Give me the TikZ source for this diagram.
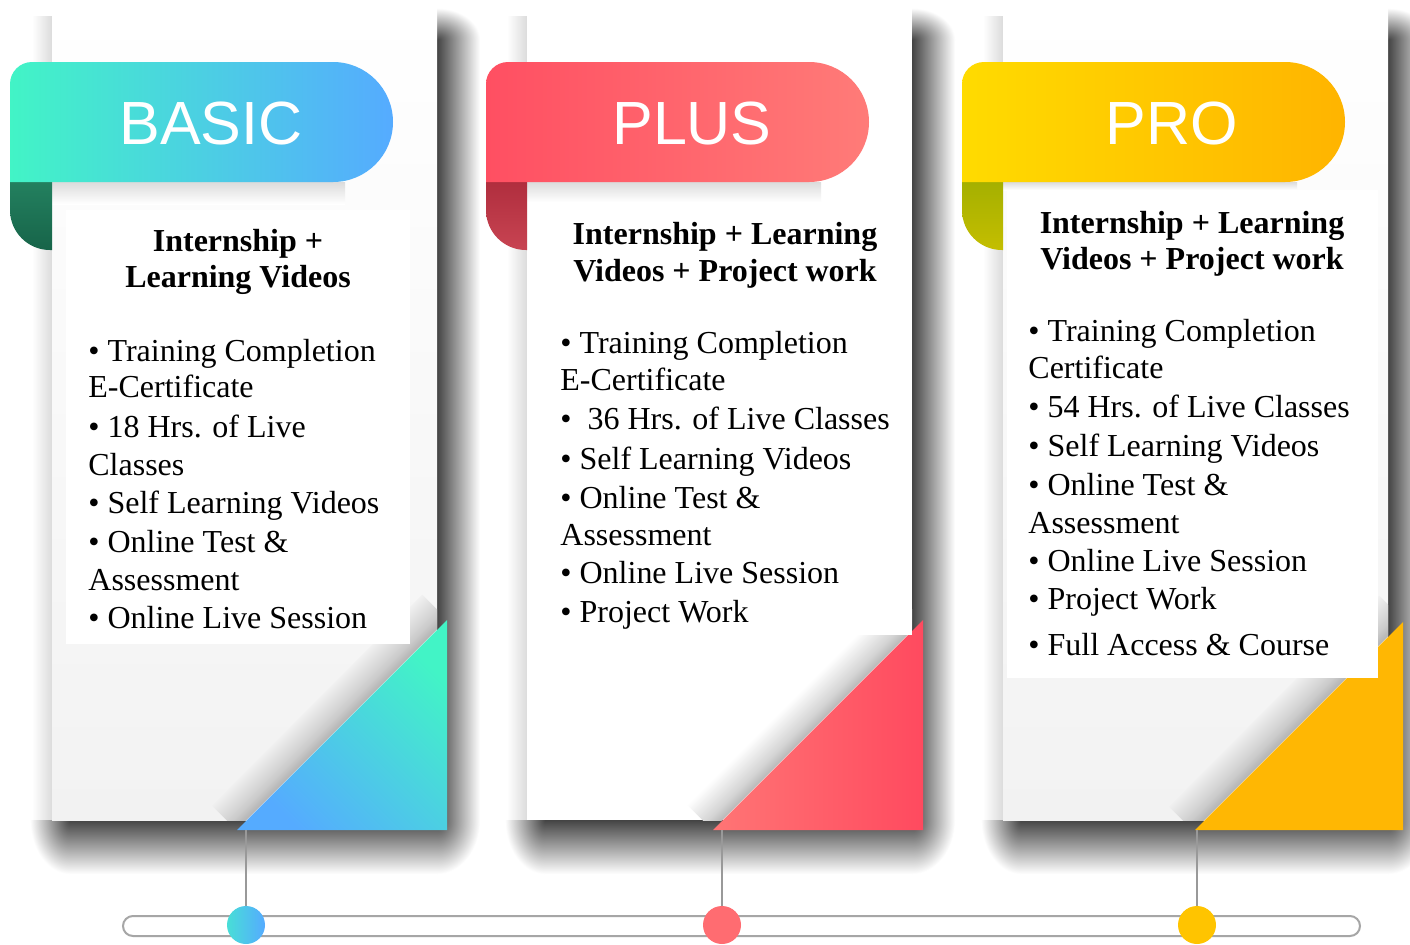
\documentclass[tikz,border=0pt]{standalone}
\usepackage{fontspec}
\setmainfont{Liberation Serif}
\setsansfont{Liberation Sans}
\usepackage{tikz}

\definecolor{basicA}{HTML}{42F4C6}
\definecolor{basicB}{HTML}{55ABFF}
\definecolor{basicC}{HTML}{23805F}
\definecolor{basicD}{HTML}{176449}
\definecolor{plusA}{HTML}{FF4F62}
\definecolor{plusB}{HTML}{FF7B78}
\definecolor{plusC}{HTML}{B02E3E}
\definecolor{plusD}{HTML}{C84452}
\definecolor{plusE}{HTML}{FF7575}
\definecolor{plusF}{HTML}{FF4A5F}
\definecolor{proA}{HTML}{FFDB00}
\definecolor{proB}{HTML}{FFB400}
\definecolor{proC}{HTML}{A5B000}
\definecolor{proD}{HTML}{C4BE00}
\definecolor{proE}{HTML}{FFB703}
\definecolor{papergray}{HTML}{F2F2F2}
\definecolor{shadowgray}{HTML}{444444}
\definecolor{linegray}{HTML}{A6A6A6}
\definecolor{stemgray}{HTML}{999999}

\pgfdeclareverticalshading{foldgray}{149pt}{color(0pt)=(black!30); color(5pt)=(black!20); color(18pt)=(papergray)}
\pgfdeclareverticalshading{foldwhite}{149pt}{color(0pt)=(black!28); color(5pt)=(black!17); color(18pt)=(white)}

\begin{document}
\begin{tikzpicture}[x=0.5pt,y=-0.5pt,
		sideshade/.style={left color=shadowgray,right color=white},
		footshade/.style={top color=shadowgray,bottom color=white},
		cornershade/.style={inner color=shadowgray,outer color=white},
		fold/.style={rotate=45,anchor=south,inner sep=0pt},
		badge/.style={text=white,font=\sffamily\fontsize{30.5}{36}\selectfont,anchor=base,inner sep=0pt},
		headtxt/.style={font=\bfseries\fontsize{16}{19}\selectfont,anchor=base,inner sep=0pt},
		itemtxt/.style={font=\fontsize{16}{19}\selectfont,anchor=base west,inner sep=0pt},
		stem/.style={draw=stemgray,line width=1pt},
		dot/.style={circle,minimum size=19pt,inner sep=0pt}]

			\fill[white] (0,0) rectangle (1410,944);
			\useasboundingbox (0,0) rectangle (1410,944);

			% BASIC
			\shade[left color=white,right color=black!14] (32,16) rectangle (52,820);
			\begin{scope}
				\clip (437,8) rectangle (480,40);
				\shade[cornershade] (437,40) ellipse[x radius=43,y radius=32];
			\end{scope}
			\begin{scope}
				\clip (437,820) rectangle (480,874);
				\shade[cornershade] (437,820) ellipse[x radius=43,y radius=54];
			\end{scope}
			\begin{scope}
				\clip (30,820) rectangle (70,874);
				\shade[cornershade] (70,820) ellipse[x radius=40,y radius=54];
			\end{scope}
			\shade[sideshade] (437,40) rectangle (480,820);
			\shade[footshade] (70,820) rectangle (437,874);
			\shade[top color=white,bottom color=papergray] (52,8) rectangle (437,820);
			\shade[top color=black!14,bottom color=white] (52,182) rectangle (345,204);
			\begin{scope}
				\clip (52,8) rectangle (437,820);
				\node[fold] (bfold) at (342,725){\pgfuseshading{foldgray}};
			\end{scope}
			\shade[top color=basicC,bottom color=basicD] (10,182) -- (10,210) arc[start angle=180,end angle=90,radius=40] -- (52,250) -- (52,182) -- cycle;
			\shade[left color=basicA,right color=basicB] (10,182) -- (10,84) arc[start angle=180,end angle=270,radius=22] -- (333,62) arc[start angle=270,end angle=450,radius=60] -- cycle;
			\shade[top color=basicA,bottom color=basicB,shading angle=-45] (237,830) -- (447,830) -- (447,620) -- cycle;
			\fill[white] (66,210) rectangle (410,644);
				\node[badge] (basic) at (211,144){BASIC};
				\node[headtxt] (bt1) at (238,251){Internship +};
				\node[headtxt] (bt2) at (238,287){Learning Videos};
				\node[itemtxt] (b1) at (88,361){\textbullet\ Training Completion};
				\node[itemtxt] (b2) at (88,397){E-Certificate};
				\node[itemtxt] (b3) at (88,437){\textbullet\ 18 Hrs. of Live};
				\node[itemtxt] (b4) at (88,475){Classes};
				\node[itemtxt] (b5) at (88,513){\textbullet\ Self Learning Videos};
				\node[itemtxt] (b6) at (88,552){\textbullet\ Online Test \&};
				\node[itemtxt] (b7) at (88,590){Assessment};
				\node[itemtxt] (b8) at (88,628){\textbullet\ Online Live Session};

			% PLUS
			\shade[left color=white,right color=black!14] (507,16) rectangle (527,820);
			\begin{scope}
				\clip (912,8) rectangle (955,40);
				\shade[cornershade] (912,40) ellipse[x radius=43,y radius=32];
			\end{scope}
			\begin{scope}
				\clip (912,820) rectangle (955,874);
				\shade[cornershade] (912,820) ellipse[x radius=43,y radius=54];
			\end{scope}
			\begin{scope}
				\clip (505,820) rectangle (545,874);
				\shade[cornershade] (545,820) ellipse[x radius=40,y radius=54];
			\end{scope}
			\shade[sideshade] (912,40) rectangle (955,820);
			\shade[footshade] (545,820) rectangle (912,874);
			\fill[white] (527,8) rectangle (912,820);
			\shade[top color=black!14,bottom color=white] (527,182) rectangle (821,202);
			\begin{scope}
				\clip (527,8) rectangle (912,820);
				\node[fold] (pfold) at (818,725){\pgfuseshading{foldwhite}};
			\end{scope}
			\shade[top color=plusC,bottom color=plusD] (486,182) -- (486,210) arc[start angle=180,end angle=90,radius=40] -- (527,250) -- (527,182) -- cycle;
			\shade[left color=plusA,right color=plusB] (486,182) -- (486,84) arc[start angle=180,end angle=270,radius=22] -- (809,62) arc[start angle=270,end angle=450,radius=60] -- cycle;
			\shade[left color=plusE,right color=plusF] (713,830) -- (923,830) -- (923,620) -- cycle;
			\fill[white] (538,202) rectangle (912,635);
				\node[badge] (plus) at (692,144){PLUS};
				\node[headtxt] (pt1) at (725,244){Internship + Learning};
				\node[headtxt] (pt2) at (725,281){Videos + Project work};
				\node[itemtxt] (p1) at (560,353){\textbullet\ Training Completion};
				\node[itemtxt] (p2) at (560,390){E-Certificate};
				\node[itemtxt] (p3) at (560,429){\textbullet\ \ 36 Hrs. of Live Classes};
				\node[itemtxt] (p4) at (560,469){\textbullet\ Self Learning Videos};
				\node[itemtxt] (p5) at (560,508){\textbullet\ Online Test \&};
				\node[itemtxt] (p6) at (560,545){Assessment};
				\node[itemtxt] (p7) at (560,583){\textbullet\ Online Live Session};
				\node[itemtxt] (p8) at (560,622){\textbullet\ Project Work};

			% PRO
			\shade[left color=white,right color=black!14] (983,16) rectangle (1003,820);
			\begin{scope}
				\clip (1388,8) rectangle (1431,40);
				\shade[cornershade] (1388,40) ellipse[x radius=43,y radius=32];
			\end{scope}
			\begin{scope}
				\clip (1388,820) rectangle (1431,874);
				\shade[cornershade] (1388,820) ellipse[x radius=43,y radius=54];
			\end{scope}
			\begin{scope}
				\clip (981,820) rectangle (1021,874);
				\shade[cornershade] (1021,820) ellipse[x radius=40,y radius=54];
			\end{scope}
			\shade[sideshade] (1388,40) rectangle (1431,820);
			\shade[footshade] (1021,820) rectangle (1388,874);
			\shade[top color=white,bottom color=papergray] (1003,8) rectangle (1388,820);
			\shade[top color=black!14,bottom color=white] (1003,182) rectangle (1297,190);
			\begin{scope}
				\clip (1003,8) rectangle (1388,820);
				\node[fold] (rfold) at (1299,726){\pgfuseshading{foldgray}};
			\end{scope}
			\shade[top color=proC,bottom color=proD] (962,182) -- (962,210) arc[start angle=180,end angle=90,radius=40] -- (1003,250) -- (1003,182) -- cycle;
			\shade[left color=proA,right color=proB] (962,182) -- (962,84) arc[start angle=180,end angle=270,radius=22] -- (1285,62) arc[start angle=270,end angle=450,radius=60] -- cycle;
			\fill[proE] (1195,830) -- (1403,830) -- (1403,622) -- cycle;
			\fill[white] (1007,190) rectangle (1378,678);
				\node[badge] (pro) at (1172,144){PRO};
				\node[headtxt] (rt1) at (1192,233){Internship + Learning};
				\node[headtxt] (rt2) at (1192,269){Videos + Project work};
				\node[itemtxt] (r1) at (1028,341){\textbullet\ Training Completion};
				\node[itemtxt] (r2) at (1028,378){Certificate};
				\node[itemtxt] (r3) at (1028,417){\textbullet\ 54 Hrs. of Live Classes};
				\node[itemtxt] (r4) at (1028,456){\textbullet\ Self Learning Videos};
				\node[itemtxt] (r5) at (1028,495){\textbullet\ Online Test \&};
				\node[itemtxt] (r6) at (1028,533){Assessment};
				\node[itemtxt] (r7) at (1028,571){\textbullet\ Online Live Session};
				\node[itemtxt] (r8) at (1028,609){\textbullet\ Project Work};
				\node[itemtxt] (r9) at (1028,655){\textbullet\ Full Access \& Course};

			% time line
			\draw[draw=linegray,fill=white,line width=1pt,rounded corners=5pt] (123,916) rectangle (1360,936);
			\coordinate (btop) at (246,830);
			\coordinate (ptop) at (722,830);
			\coordinate (rtop) at (1197,830);
			\node[dot,left color=basicA!70!basicB,right color=basicB] (bdot) at (246,925){};
			\node[dot,fill=plusE!80!plusF] (pdot) at (722,925){};
			\node[dot,fill=proA!40!proB] (rdot) at (1197,925){};
			\draw[stem] (btop) -- (bdot);
			\draw[stem] (ptop) -- (pdot);
			\draw[stem] (rtop) -- (rdot);

\end{tikzpicture}
\end{document}
